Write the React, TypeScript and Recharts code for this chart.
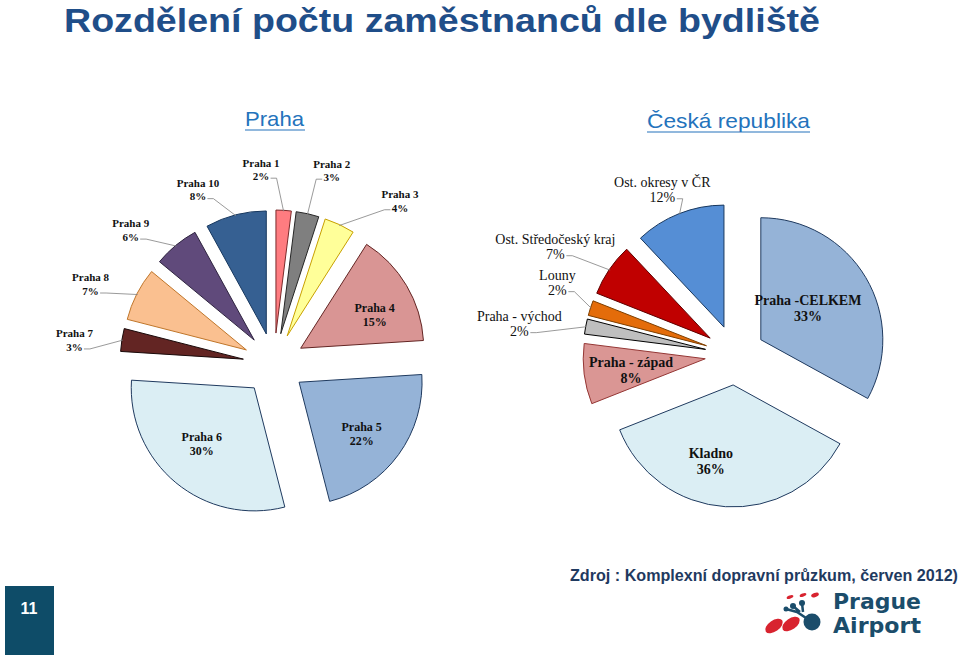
import React from 'react';
import { PieChart, Pie, Sector } from 'recharts';

// ---------- data ----------
const prahaNames = ['Praha 1', 'Praha 2', 'Praha 3', 'Praha 4', 'Praha 5', 'Praha 6', 'Praha 7', 'Praha 8', 'Praha 9', 'Praha 10'];
const prahaValues = [2, 3, 4, 15, 22, 30, 3, 7, 6, 8];

const crNames = ['Praha -CELKEM', 'Kladno', 'Praha - západ', 'Praha - východ', 'Louny', 'Ost. Středočeský kraj', 'Ost. okresy v ČR'];
const crValues = [33, 36, 8, 2, 2, 7, 12];

const titleText = 'Rozdělení počtu zaměstnanců dle bydliště';
const leftTitle = 'Praha';
const rightTitle = 'Česká republika';
const sourceText = 'Zdroj : Komplexní dopravní průzkum, červen 2012)';
const pageNumber = '11';

// ---------- styles ----------
const prahaFills = ['#FF7C80', '#7F7F7F', '#FFFF99', '#D99594', '#95B3D7', '#DBEEF4', '#632523', '#FAC090', '#604A7B', '#366092'];
const prahaStrokes = ['#7a2b2b', '#262626', '#C8A000', '#632523', '#1F3A5F', '#1F3A5F', '#1a0a0a', '#C0762A', '#2F2440', '#17375E'];
const crFills = ['#95B3D7', '#DBEEF4', '#DA9694', '#BFBFBF', '#E46C0A', '#C00000', '#558ED5'];
const crStrokes = ['#1F3A5F', '#1F3A5F', '#953735', '#000000', '#7F3F00', '#600000', '#17375E'];

// label layout: inside?, radius from pie centre, clockwise angle offset (deg) from slice mid-angle
const prahaLabelLayout = [
  { inside: false, r: 195, da: -7.4 },
  { inside: false, r: 202, da: 4 },
  { inside: false, r: 206, da: 12.5 },
  { inside: true, r: 112, da: 4.6 },
  { inside: true, r: 112, da: 2.5 },
  { inside: true, r: 108, da: 2.4 },
  { inside: false, r: 201, da: -2.2 },
  { inside: false, r: 200, da: -3.5 },
  { inside: false, r: 196, da: -7.4 },
  { inside: false, r: 190, da: -9.2 },
];
const crLabelLayout = [
  { inside: true, r: 87, da: -2.4 },
  { inside: true, r: 109, da: 9.2 },
  { inside: true, r: 105, da: -1 },
  { inside: false, r: 218, da: -2.4 },
  { inside: false, r: 192, da: 4.3 },
  { inside: false, r: 210, da: -3 },
  { inside: false, r: 181, da: -2.1 },
];

const prahaData = prahaNames.map((name, i) => ({ name, value: prahaValues[i] }));
const crData = crNames.map((name, i) => ({ name, value: crValues[i] }));

const RAD = Math.PI / 180;
const polar = (cx: number, cy: number, r: number, angle: number) => ({
  x: cx + r * Math.cos(-angle * RAD),
  y: cy + r * Math.sin(-angle * RAD),
});

type Cfg = {
  names: string[];
  values: number[];
  fills: string[];
  strokes: string[];
  layout: { inside: boolean; r: number; da: number }[];
  explode: number;
  outerFont: number;
  innerFont: number;
  outerWeight: number;
  lineGap: number;
  outerGap: number;
};

const serif = "'Liberation Serif', 'Times New Roman', serif";

function makeRenderer(cfg: Cfg) {
  return (props: any) => {
    const { cx, cy, midAngle, startAngle, endAngle, outerRadius, index } = props;
    const o = polar(cx, cy, cfg.explode, midAngle);
    const lay = cfg.layout[index];
    const t = polar(cx, cy, lay.r, midAngle - lay.da);
    const name = cfg.names[index];
    const pct = `${cfg.values[index]}%`;
    const fs = lay.inside ? cfg.innerFont : cfg.outerFont;
    const lh = lay.inside ? cfg.lineGap : cfg.outerGap;
    let line: any = null;
    if (!lay.inside) {
      const s = polar(cx, cy, cfg.explode + outerRadius - 1, midAngle);
      const pw = pct.length * fs * 0.5;
      const left = s.x < t.x;
      const endX = left ? t.x - pw / 2 - 4 : t.x + pw / 2 + 4;
      const endY = t.y + lh / 2 + 2;
      const elbowX = left ? endX - 6 : endX + 6;
      line = (
        <polyline
          points={`${s.x},${s.y} ${elbowX},${endY} ${endX},${endY}`}
          fill="none"
          stroke="#808080"
          strokeWidth={0.8}
        />
      );
    }
    return (
      <g key={`lbl-${index}`}>
        <Sector
          cx={o.x}
          cy={o.y}
          innerRadius={0}
          outerRadius={outerRadius}
          startAngle={startAngle}
          endAngle={endAngle}
          fill={cfg.fills[index]}
          stroke={cfg.strokes[index]}
          strokeWidth={1}
        />
        {line}
        <text
          textAnchor="middle"
          fontFamily={serif}
          fontSize={fs}
          fontWeight={lay.inside ? 700 : cfg.outerWeight}
          fill="#111"
        >
          <tspan x={t.x} y={t.y - lh / 2 + fs * 0.35}>{name}</tspan>
          <tspan x={t.x} y={t.y + lh / 2 + fs * 0.35}>{pct}</tspan>
        </text>
      </g>
    );
  };
}

const renderPraha = makeRenderer({
  names: prahaNames,
  values: prahaValues,
  fills: prahaFills,
  strokes: prahaStrokes,
  layout: prahaLabelLayout,
  explode: 31,
  outerFont: 11,
  innerFont: 12,
  outerWeight: 700,
  lineGap: 14,
  outerGap: 13.5,
});

const renderCr = makeRenderer({
  names: crNames,
  values: crValues,
  fills: crFills,
  strokes: crStrokes,
  layout: crLabelLayout,
  explode: 30,
  outerFont: 14,
  innerFont: 14,
  outerWeight: 400,
  lineGap: 16,
  outerGap: 15,
});

function Decorations() {
  return (
    <svg width={960} height={656} style={{ position: 'absolute', left: 0, top: 0 }}>
      <text
        x={64}
        y={32}
        fontFamily="'Liberation Sans', Arial, sans-serif"
        fontWeight={700}
        fontSize={34}
        fill="#1F4E89"
        textLength={756}
        lengthAdjust="spacingAndGlyphs"
      >
        {titleText}
      </text>
      <text x={245} y={126} fontFamily="'Liberation Sans', Arial, sans-serif" fontSize={21} fill="#2473BC" textLength={59} lengthAdjust="spacingAndGlyphs">
        {leftTitle}
      </text>
      <line x1={245} x2={305} y1={130} y2={130} stroke="#2473BC" strokeWidth={1.2} />
      <text x={647} y={128} fontFamily="'Liberation Sans', Arial, sans-serif" fontSize={21} fill="#2473BC" textLength={163} lengthAdjust="spacingAndGlyphs">
        {rightTitle}
      </text>
      <line x1={647} x2={810} y1={132} y2={132} stroke="#2473BC" strokeWidth={1.2} />
      <text
        x={570}
        y={581}
        fontFamily="'Liberation Sans', Arial, sans-serif"
        fontWeight={700}
        fontSize={16}
        fill="#1F3A60"
        textLength={388}
        lengthAdjust="spacingAndGlyphs"
      >
        {sourceText}
      </text>
      {/* page number */}
      <rect x={5} y={586} width={49} height={69} fill="#0E4C68" />
      <text x={29} y={614} textAnchor="middle" fontFamily="'Liberation Sans', Arial, sans-serif" fontWeight={700} fontSize={16} fill="#ffffff">
        {pageNumber}
      </text>
      {/* logo */}
      <g>
        <ellipse cx={774} cy={626} rx={10} ry={5.5} transform="rotate(-35 774 626)" fill="#D8232F" />
        <ellipse cx={791} cy={624} rx={10} ry={5.5} transform="rotate(-35 791 624)" fill="#D8232F" />
        <ellipse cx={790} cy={597} rx={3.5} ry={1.6} transform="rotate(-20 790 597)" fill="#D8232F" />
        <ellipse cx={803} cy={595} rx={3.5} ry={1.6} transform="rotate(-20 803 595)" fill="#D8232F" />
        <ellipse cx={815} cy={595} rx={4} ry={2} transform="rotate(-20 815 595)" fill="#D8232F" />
        <circle cx={812} cy={622} r={8.5} fill="#1B4D6B" />
        <circle cx={793} cy={606} r={3} fill="#1B4D6B" />
        <circle cx={802} cy={603} r={3} fill="#1B4D6B" />
        <circle cx={786} cy={609} r={2.5} fill="#1B4D6B" />
        <path d="M786 609 L797 612 L812 622 M793 606 L800 612 M802 603 L803 612" stroke="#1B4D6B" strokeWidth={2.5} fill="none" />
        <text x={833} y={609} fontFamily="'DejaVu Sans', 'Liberation Sans', sans-serif" fontWeight={700} fontSize={22} fill="#1B4D6B" textLength={88} lengthAdjust="spacingAndGlyphs">
          Prague
        </text>
        <text x={833} y={633} fontFamily="'DejaVu Sans', 'Liberation Sans', sans-serif" fontWeight={700} fontSize={22} fill="#1B4D6B" textLength={88} lengthAdjust="spacingAndGlyphs">
          Airport
        </text>
      </g>
    </svg>
  );
}

export default function App() {
  return (
    <div style={{ position: 'absolute', left: 0, top: 0, width: 960, height: 656, background: '#ffffff' }}>
      <Decorations />
      <div style={{ position: 'absolute', left: 0, top: 0 }}>
        <PieChart width={960} height={656} margin={{ top: 0, right: 0, bottom: 0, left: 0 }}>
          <Pie
            data={prahaData}
            dataKey="value"
            nameKey="name"
            cx={274}
            cy={364}
            innerRadius={0}
            outerRadius={123}
            startAngle={90}
            endAngle={-270}
            fill="transparent"
            stroke="none"
            label={renderPraha}
            labelLine={false}
            isAnimationActive={false}
          />
          <Pie
            data={crData}
            dataKey="value"
            nameKey="name"
            cx={735}
            cy={355}
            innerRadius={0}
            outerRadius={122}
            startAngle={90}
            endAngle={-270}
            fill="transparent"
            stroke="none"
            label={renderCr}
            labelLine={false}
            isAnimationActive={false}
          />
        </PieChart>
      </div>
    </div>
  );
}
